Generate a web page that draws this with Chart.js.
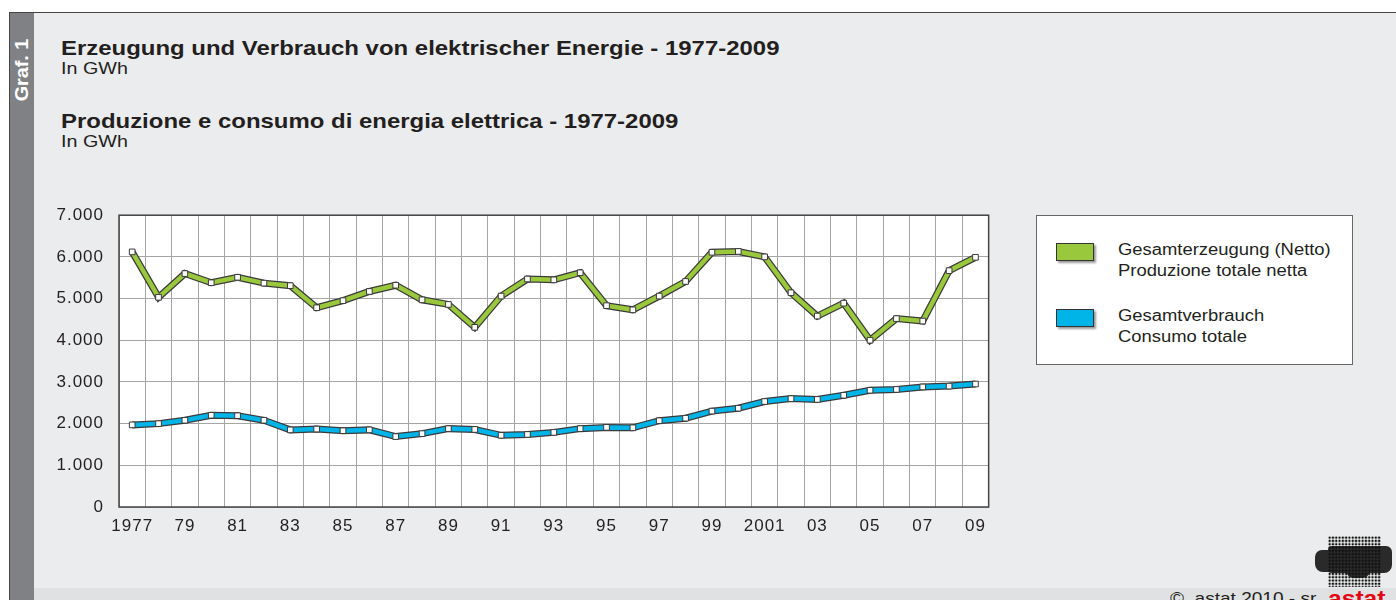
<!DOCTYPE html>
<html>
<head>
<meta charset="utf-8">
<script src="https://cdn.jsdelivr.net/npm/chart.js@4"></script>
<style>
  body { margin: 0; width: 1396px; height: 600px; background: #fff; overflow: hidden; font-family: "Liberation Sans", Arial, sans-serif; color: #231f20; }
  #panel { position: absolute; left: 9px; top: 12px; width: 1387px; height: 588px; background: #ebeced; border-left: 1px solid #444; border-top: 1px solid #444; box-sizing: border-box; overflow: hidden; }
  #strip { position: absolute; left: 0; top: 0; width: 24px; height: 100%; background: #808184; }
  #graf { position: absolute; left: 12px; top: 57px; transform: translate(-50%, -50%) rotate(-90deg) scaleX(1.1); color: #fff; font-weight: bold; font-size: 18px; white-space: nowrap; }
  #bottom { position: absolute; left: 24px; top: 575px; right: 0; height: 13px; background: #e0e1e2; }
  .t { position: absolute; left: 51px; font-weight: bold; font-size: 21px; white-space: nowrap; transform: scaleX(1.14); transform-origin: 0 0; }
  .u { position: absolute; left: 51px; font-size: 17px; white-space: nowrap; transform: scaleX(1.16); transform-origin: 0 0; }
  #wrap { position: absolute; left: 35px; top: 177px; width: 950px; height: 347px; }
  #legend { position: absolute; left: 1026px; top: 202px; width: 317px; height: 150px; background: #fff; border: 1px solid #666; box-sizing: border-box; }
  .li { position: absolute; left: 19px; font-size: 16px; line-height: 21px; color: #231f20; }
  .sw { position: absolute; left: 0; top: 4px; width: 38px; height: 18px; border: 1px solid #333; box-sizing: border-box; box-shadow: 2px 2px 2px #999; }
  .lt { position: absolute; left: 62px; top: 0; white-space: nowrap; transform: scaleX(1.15); transform-origin: 0 0; }
  #copy { position: absolute; left: 1160px; top: 576px; font-size: 17px; color: #231f20; white-space: nowrap; transform: scaleX(1.12); transform-origin: 0 0; }
  .blob { position: absolute; background: #2a2a2a; }
  #logo { position: absolute; left: 1318px; top: 523px; width: 53px; height: 51px;
          background-image: radial-gradient(circle, #111 1.1px, transparent 1.4px); background-size: 3.3px 3.3px; }
  #astat { position: absolute; left: 1318px; top: 573px; font-size: 22px; font-weight: bold; color: #e30613; transform: scaleX(1.12); transform-origin: 0 0; }
</style>
</head>
<body>
<div id="panel">
  <div id="strip"><div id="graf">Graf. 1</div></div>
  <div class="t" style="top:23px">Erzeugung und Verbrauch von elektrischer Energie - 1977-2009</div>
  <div class="u" style="top:46px">In GWh</div>
  <div class="t" style="top:96px">Produzione e consumo di energia elettrica - 1977-2009</div>
  <div class="u" style="top:119px">In GWh</div>
  <div id="wrap"><canvas id="chart"></canvas></div>
  <div id="legend">
    <div class="li" style="top:23px"><div class="sw" style="background:#9ac83c"></div><div class="lt">Gesamterzeugung (Netto)<br>Produzione totale netta</div></div>
    <div class="li" style="top:89px"><div class="sw" style="background:#00b4e8"></div><div class="lt">Gesamtverbrauch<br>Consumo totale</div></div>
  </div>
  <div id="bottom"></div>
  <div class="blob" style="left:1305px; top:537px; width:18px; height:22px; border-radius:7px 3px 3px 8px"></div>
  <div class="blob" style="left:1318px; top:533px; width:64px; height:27px; border-radius:4px 6px 8px 4px"></div>
  <div class="blob" style="left:1336px; top:556px; width:24px; height:9px; border-radius:0 0 8px 8px"></div>
  <div id="logo"></div>
  <div id="copy">©&nbsp; astat 2010 - sr</div>
  <div id="astat">astat</div>
</div>
<script>
const years = ['1977','1978','1979','1980','1981','1982','1983','1984','1985','1986','1987',
  '1988','1989','1990','1991','1992','1993','1994','1995','1996','1997','1998',
  '1999','2000','2001','2002','2003','2004','2005','2006','2007','2008','2009'];

const produzione = [6120, 5030, 5600, 5380, 5510, 5370, 5310, 4780, 4950, 5170, 5320,
  4970, 4860, 4310, 5060, 5470, 5450, 5620, 4830, 4730, 5060, 5410,
  6110, 6130, 6000, 5140, 4580, 4890, 4000, 4520, 4460, 5670, 5990];

const consumo = [1970, 2000, 2080, 2200, 2190, 2080, 1850, 1870, 1830, 1850, 1690,
  1760, 1880, 1860, 1720, 1740, 1790, 1880, 1910, 1900, 2070, 2130,
  2300, 2370, 2530, 2600, 2580, 2680, 2800, 2820, 2880, 2900, 2950];

const yTicks = [0, 1000, 2000, 3000, 4000, 5000, 6000, 7000];

const green = '#9ac83c';
const blue = '#00b4e8';
const outline = '#3a3a3a';

function shortYear(v, i) {
  if (i % 2 !== 0) return '';
  const y = years[i];
  if (i === 0 || y === '2001') return y;
  return y.slice(2);
}

// wider text like the original, white plot area, dark frame
const plotBg = {
  id: 'plotBg',
  beforeUpdate(chart) { chart.ctx.letterSpacing = '1px'; },
  beforeDraw(chart) {
    const a = chart.chartArea, c = chart.ctx;
    c.letterSpacing = '1px';
    c.save();
    c.fillStyle = '#fff';
    c.fillRect(a.left, a.top, a.right - a.left, a.bottom - a.top);
    c.restore();
  },
  afterDatasetsDraw(chart) {
    const a = chart.chartArea, c = chart.ctx;
    c.save();
    c.strokeStyle = '#444';
    c.lineWidth = 1.5;
    c.strokeRect(a.left, a.top, a.right - a.left, a.bottom - a.top);
    c.restore();
  }
};

function under(data, order) {
  return { data: data, borderColor: outline, borderWidth: 7, pointRadius: 0, order: order, tension: 0 };
}
function over(data, color, order) {
  return { data: data, borderColor: color, borderWidth: 4.5, order: order, tension: 0,
    pointStyle: 'rect', pointRadius: 4, pointBackgroundColor: '#fff',
    pointBorderColor: outline, pointBorderWidth: 1 };
}

new Chart(document.getElementById('chart'), {
  type: 'line',
  data: {
    labels: years,
    datasets: [
      over(produzione, green, 1),
      under(produzione, 2),
      over(consumo, blue, 3),
      under(consumo, 4)
    ]
  },
  plugins: [plotBg],
  options: {
    responsive: true,
    maintainAspectRatio: false,
    animation: false,
    layout: { padding: { top: 5, right: 0, left: 0, bottom: 0 } },
    plugins: { legend: { display: false }, tooltip: { enabled: false } },
    scales: {
      x: {
        offset: true,
        afterFit(axis) { axis.height = 30; },
        grid: { offset: true, color: '#a5a5a5', lineWidth: 1, drawTicks: false },
        border: { display: false },
        ticks: { autoSkip: false, maxRotation: 0, color: '#231f20', padding: 9,
          font: { family: 'Liberation Sans', size: 17 }, callback: shortYear }
      },
      y: {
        min: 0, max: 7000,
        afterFit(axis) { axis.width = 74; },
        afterBuildTicks(axis) { axis.ticks = yTicks.map(v => ({ value: v })); },
        grid: { color: '#a5a5a5', lineWidth: 1, drawTicks: false },
        border: { display: false },
        ticks: { color: '#231f20', padding: 15,
          font: { family: 'Liberation Sans', size: 17 },
          callback: v => v.toLocaleString('de-DE') }
      }
    }
  }
});
</script>
</body>
</html>
